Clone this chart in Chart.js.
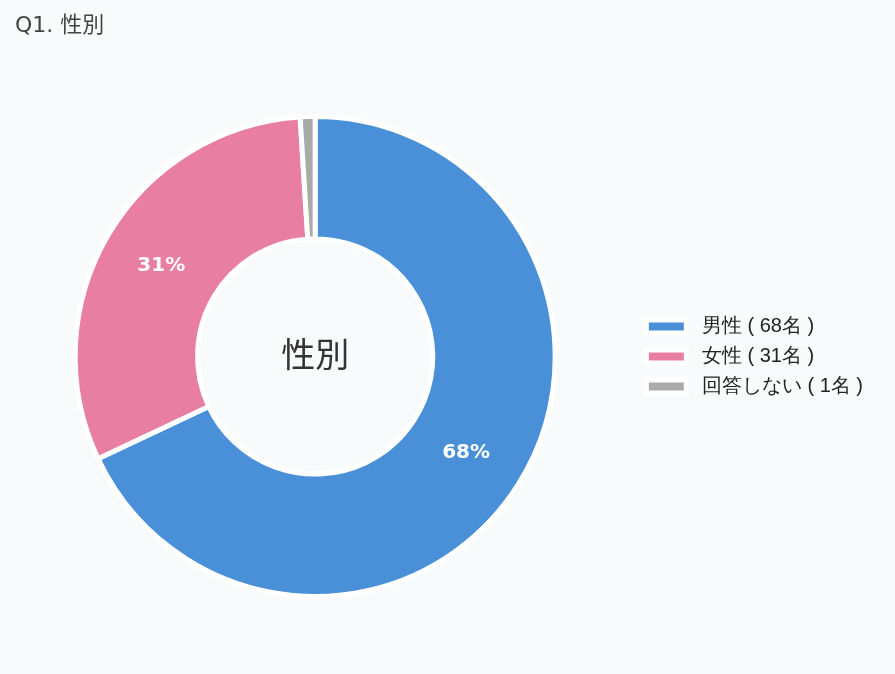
<!DOCTYPE html>
<html>
<head>
<meta charset="utf-8">
<script src="https://cdn.jsdelivr.net/npm/chart.js@4/dist/chart.umd.min.js"></script>
<style>
  html, body { margin: 0; padding: 0; background: #f9fafb; overflow: hidden; }
  #wrap { position: relative; width: 895px; height: 674px; overflow: hidden; }
  #genderChart { position: absolute; left: -6px; top: 0; }
  #title { position: absolute; left: 15px; top: 14px; font: 22px "DejaVu Sans", "Noto Sans CJK JP", sans-serif; line-height: 1; color: #444; z-index: 1; }
</style>
</head>
<body>
<div id="wrap">
  <div id="title">Q1. 性別</div>
  <canvas id="genderChart" width="901" height="674"></canvas>
</div>
<script>
const labels = [' 男性 ( 68名 )', ' 女性 ( 31名 )', ' 回答しない ( 1名 )'];
const counts = [68, 31, 1];
const colors = ['#4a90d9', '#e87ea1', '#aaaaaa'];
const centerLabel = '性別';

// percentage labels on each slice
const pctLabels = {
  id: 'pctLabels',
  afterDatasetsDraw(chart) {
    const ctx = chart.ctx;
    const meta = chart.getDatasetMeta(0);
    const data = chart.data.datasets[0].data;
    const total = data.reduce((a, b) => a + b, 0);
    ctx.save();
    ctx.fillStyle = '#fff';
    ctx.font = 'bold 20px "DejaVu Sans", sans-serif';
    ctx.textAlign = 'center';
    ctx.textBaseline = 'middle';
    meta.data.forEach((arc, i) => {
      const pct = Math.round(data[i] / total * 100);
      if (pct < 5) return;
      const p = arc.tooltipPosition();
      ctx.fillText(pct + '%', p.x, p.y);
    });
    ctx.restore();
  }
};

// text in the hole
const centerText = {
  id: 'centerText',
  afterDatasetsDraw(chart) {
    const ctx = chart.ctx;
    const arc = chart.getDatasetMeta(0).data[0];
    ctx.save();
    ctx.fillStyle = '#333';
    ctx.font = '34px "Noto Sans CJK JP", sans-serif';
    ctx.textAlign = 'center';
    ctx.textBaseline = 'middle';
    ctx.fillText(centerLabel, arc.x, arc.y - 2);
    ctx.restore();
  }
};

const ctx = document.getElementById('genderChart').getContext('2d');
const myChart = new Chart(ctx, {
  type: 'doughnut',
  data: {
    labels: labels,
    datasets: [{
      data: counts,
      backgroundColor: colors,
      borderColor: '#fff',
      borderWidth: 5
    }]
  },
  options: {
    responsive: false,
    animation: false,
    cutout: '49%',
    layout: {
      padding: { top: 114, bottom: 75, left: -5, right: 22 }
    },
    plugins: {
      legend: {
        position: 'right',
        labels: {
          color: '#222',
          font: { size: 20, family: "'Helvetica Neue', 'Helvetica', 'Arial', sans-serif" },
          boxWidth: 40,
          boxHeight: 13,
          padding: 10
        }
      },
      tooltip: { enabled: false }
    }
  },
  plugins: [pctLabels, centerText]
});
</script>
</body>
</html>
